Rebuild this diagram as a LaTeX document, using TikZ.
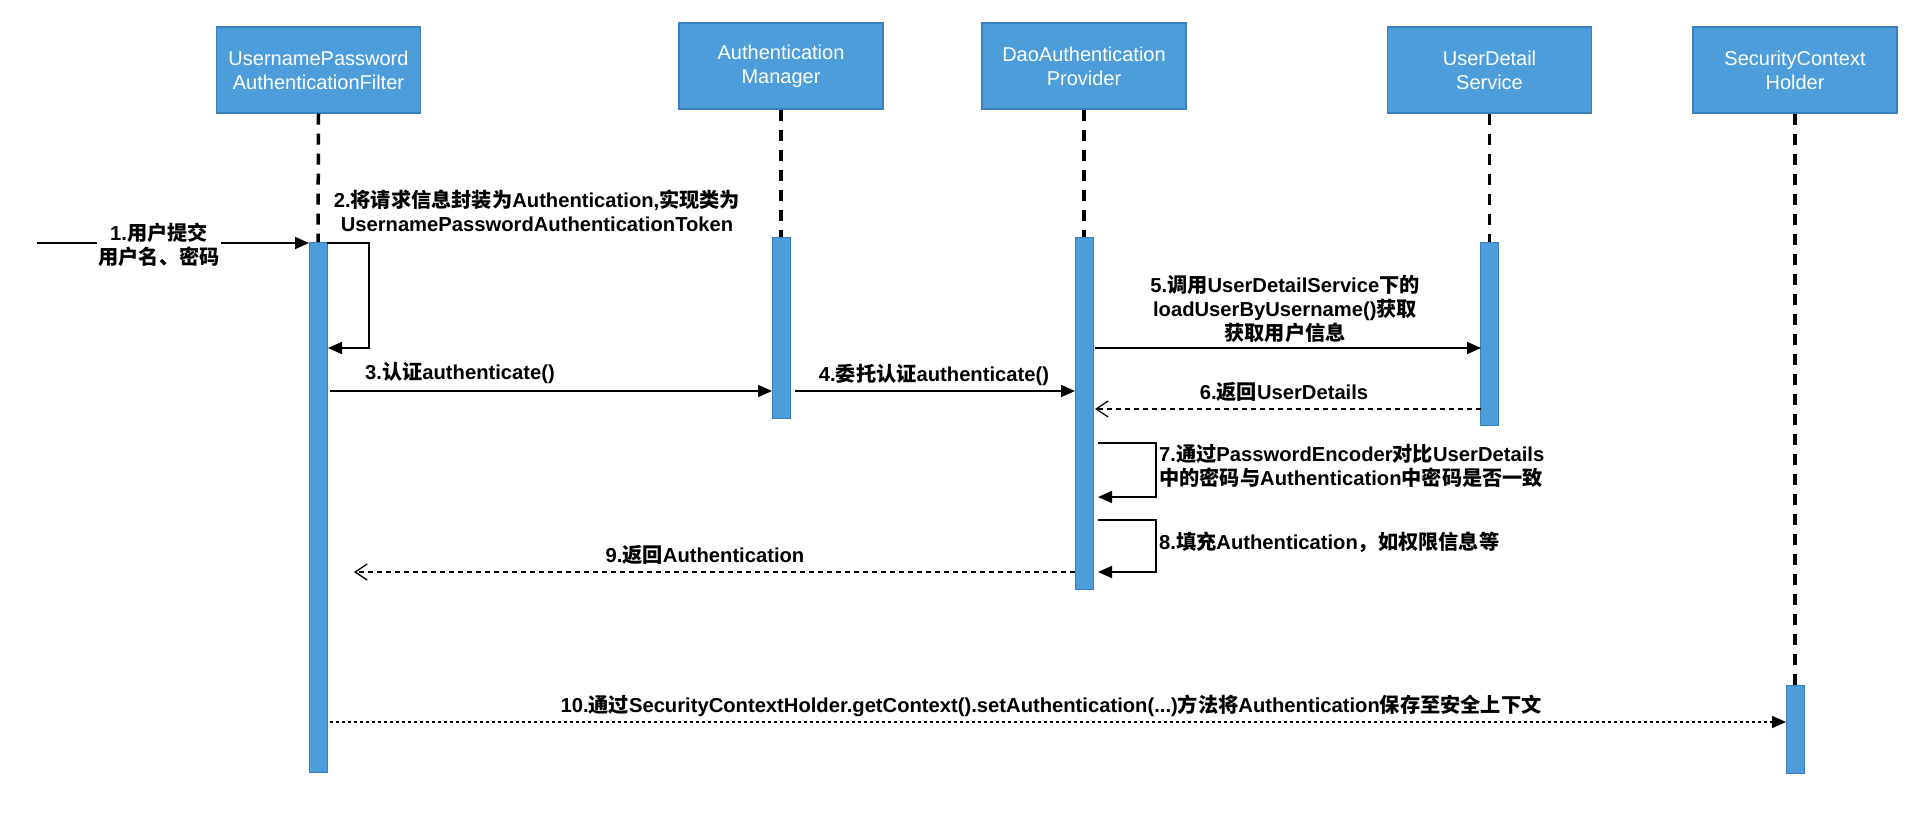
\documentclass[tikz,border=0pt]{standalone}
\usepackage{fontspec}
\setmainfont{Liberation Sans}
\newfontfamily\zhfont{Noto Sans CJK SC}
\newcommand{\zh}[1]{{\zhfont #1}}
\usetikzlibrary{arrows.meta}
\definecolor{boxblue}{HTML}{4D9DDB}
\definecolor{boxedge}{HTML}{3B7FC0}
\begin{document}
\begin{tikzpicture}[x=1pt,y=-1pt,
  actor/.style={draw=boxedge, line width=1.2pt, fill=boxblue, minimum width=204pt, minimum height=86pt, inner sep=0pt, text=white, align=center, font=\fontsize{20}{24}\selectfont},
  bar/.style={draw=boxedge, line width=1pt, fill=boxblue, minimum width=18pt, inner sep=0pt, anchor=north},
  lifeline/.style={line width=3.5pt, dash pattern=on 11pt off 9pt},
  msg/.style={line width=1.7pt, -{Triangle[length=14pt,width=12pt]}},
  ret/.style={line width=1.3pt, dash pattern=on 5pt off 4pt, -{Straight Barb[length=12pt,width=16pt]}},
  async/.style={line width=1.7pt, dash pattern=on 3pt off 3pt, -{Triangle[length=14pt,width=12pt]}},
  lbl/.style={font=\fontsize{20.2}{24}\selectfont\bfseries, align=center, inner sep=1pt},
]
\useasboundingbox (0,0) rectangle (1926,814);

% participants
\node[actor] (A) at (318.5,70) {UsernamePassword\\AuthenticationFilter};
\node[actor] (B) at (781,66) {Authentication\\Manager};
\node[actor] (C) at (1084,66) {DaoAuthentication\\Provider};
\node[actor] (D) at (1489.5,70) {UserDetail\\Service};
\node[actor] (E) at (1795,70) {SecurityContext\\Holder};

% activation bars
\node[bar, minimum height=530pt] (bar1) at (318,242) {};
\node[bar, minimum height=181pt] (bar2) at (781,237) {};
\node[bar, minimum height=352pt] (bar3) at (1084,237) {};
\node[bar, minimum height=183pt] (bar4) at (1489.5,242) {};
\node[bar, minimum height=88pt] (bar5) at (1795,685) {};

% lifelines
\draw[lifeline] (A.south) -- (bar1.north);
\draw[lifeline] (B.south) -- (bar2.north);
\draw[lifeline] (C.south) -- (bar3.north);
\draw[lifeline] (D.south) -- (bar4.north);
\draw[lifeline] (E.south) -- (bar5.north);

% message end points
\coordinate (m1s) at (37,243);
\coordinate (m1e) at (309,243);
\coordinate (m2s) at (327,243);
\coordinate (m2e) at (328,348);
\coordinate (m3s) at (330,391);
\coordinate (m3e) at (772,391);
\coordinate (m4s) at (795,391);
\coordinate (m4e) at (1075,391);
\coordinate (m5s) at (1095,348);
\coordinate (m5e) at (1481,348);
\coordinate (m6s) at (1481,409);
\coordinate (m6e) at (1095,409);
\coordinate (m7s) at (1098,443);
\coordinate (m7e) at (1098,497);
\coordinate (m8s) at (1098,520);
\coordinate (m8e) at (1098,572);
\coordinate (m9s) at (1075,572);
\coordinate (m9e) at (354,572);
\coordinate (m10s) at (330,722);
\coordinate (m10e) at (1786,722);

% messages
\draw[msg] (m1s) -- (m1e);
\draw[msg] (m2s) -- ++(42,0) |- (m2e);
\draw[msg] (m3s) -- (m3e);
\draw[msg] (m4s) -- (m4e);
\draw[msg] (m5s) -- (m5e);
\draw[ret] (m6s) -- (m6e);
\draw[msg] (m7s) -- ++(58,0) |- (m7e);
\draw[msg] (m8s) -- ++(58,0) |- (m8e);
\draw[ret] (m9s) -- (m9e);
\draw[async] (m10s) -- (m10e);

% labels
\node[lbl, fill=white] (l1) at (159,245) {1.\zh{用户提交}\\\zh{用户名、密码}};
\node[lbl] (l2) at (537,211) {2.\zh{将请求信息封装为}Authentication,\zh{实现类为}\\UsernamePasswordAuthenticationToken};
\node[lbl] (l3) at (460,373) {3.\zh{认证}authenticate()};
\node[lbl] (l4) at (934,375) {4.\zh{委托认证}authenticate()};
\node[lbl] (l5) at (1285,309) {5.\zh{调用}UserDetailService\zh{下的}\\loadUserByUsername()\zh{获取}\\\zh{获取用户信息}};
\node[lbl] (l6) at (1284,392) {6.\zh{返回}UserDetails};
\node[lbl, anchor=west, align=left] (l7) at (1158,466) {7.\zh{通过}PasswordEncoder\zh{对比}UserDetails\\\zh{中的密码与}Authentication\zh{中密码是否一致}};
\node[lbl, anchor=west, align=left] (l8) at (1158,542) {8.\zh{填充}Authentication\zh{，如权限信息等}};
\node[lbl] (l9) at (705,555) {9.\zh{返回}Authentication};
\node[lbl] (l10) at (1051,706) {10.\zh{通过}SecurityContextHolder.getContext().setAuthentication(...)\zh{方法将}Authentication\zh{保存至安全上下文}};
\end{tikzpicture}
\end{document}
